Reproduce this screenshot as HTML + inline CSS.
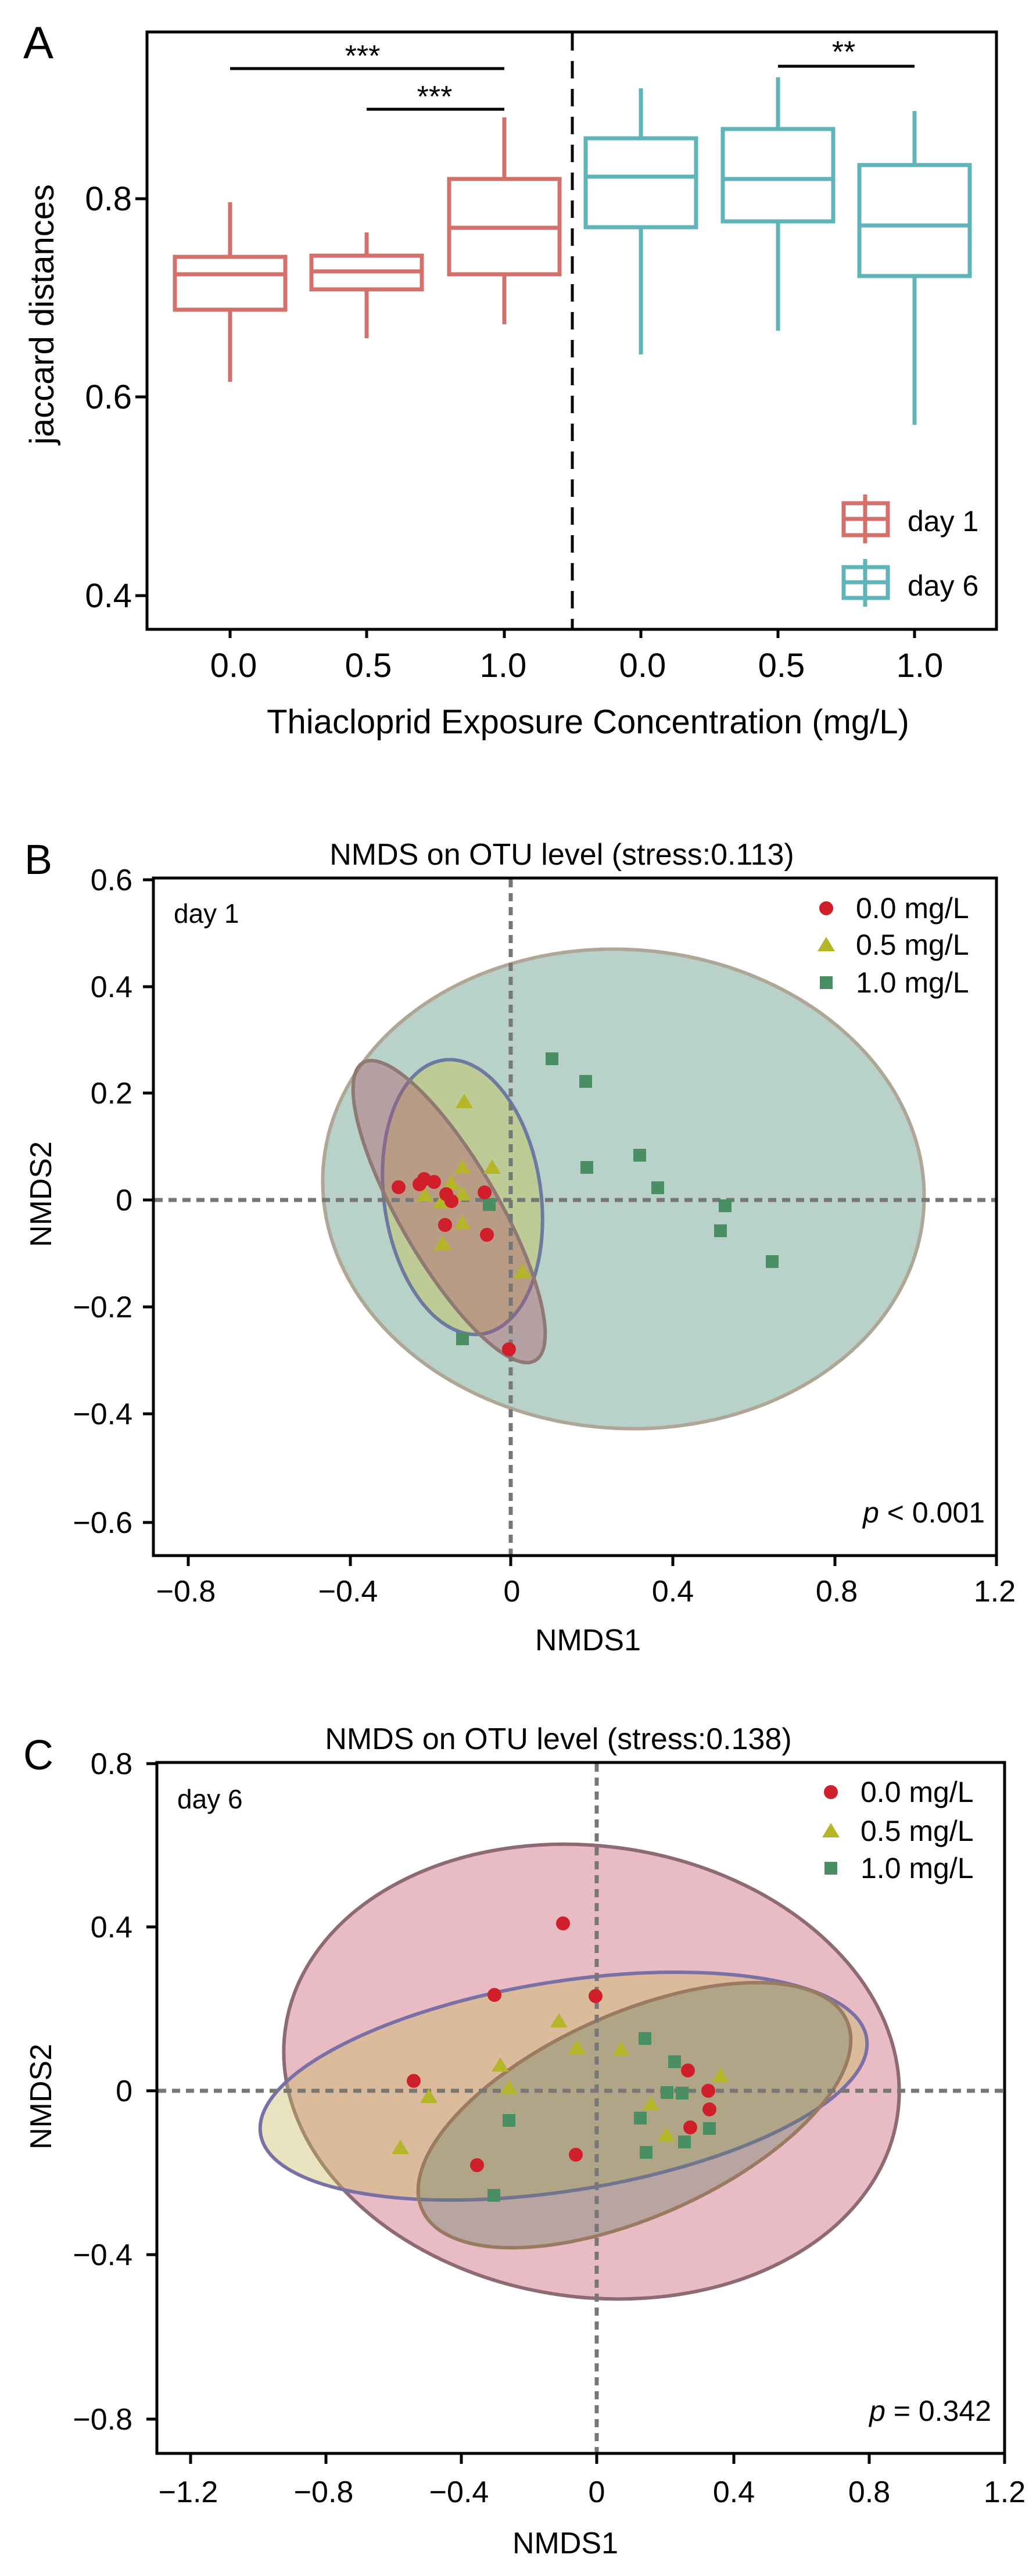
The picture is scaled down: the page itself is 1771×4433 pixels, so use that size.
<!DOCTYPE html>
<html><head><meta charset="utf-8"><style>
html,body{margin:0;padding:0;background:#fff}
svg{display:block}
text{font-family:"Liberation Sans",sans-serif;fill:#000}
.n{font-family:"Liberation Sans Narrow","Liberation Sans",sans-serif}
</style></head><body>
<svg width="1771" height="4433" viewBox="0 0 1771 4433" xmlns="http://www.w3.org/2000/svg">
<!-- Panel A -->
<text x="40" y="100" font-size="78" class="n">A</text>
<g fill="none" stroke-width="7">
<g stroke="#d4706a">
<line x1="396" y1="348" x2="396" y2="442"/><line x1="396" y1="533" x2="396" y2="657"/>
<rect x="301" y="442" width="190" height="91"/><line x1="301" y1="472" x2="491" y2="472"/>
<line x1="631" y1="400" x2="631" y2="440"/><line x1="631" y1="498" x2="631" y2="582"/>
<rect x="536" y="440" width="190" height="58"/><line x1="536" y1="467" x2="726" y2="467"/>
<line x1="868" y1="202" x2="868" y2="308"/><line x1="868" y1="472" x2="868" y2="558"/>
<rect x="773" y="308" width="190" height="164"/><line x1="773" y1="392" x2="963" y2="392"/>
<line x1="1489" y1="851" x2="1489" y2="935"/><rect x="1452" y="866" width="76" height="55"/><line x1="1452" y1="893" x2="1528" y2="893"/>
</g>
<g stroke="#5fb4b8">
<line x1="1103" y1="152" x2="1103" y2="238"/><line x1="1103" y1="391" x2="1103" y2="610"/>
<rect x="1008" y="238" width="190" height="153"/><line x1="1008" y1="304" x2="1198" y2="304"/>
<line x1="1339" y1="133" x2="1339" y2="222"/><line x1="1339" y1="381" x2="1339" y2="569"/>
<rect x="1244" y="222" width="190" height="159"/><line x1="1244" y1="308" x2="1434" y2="308"/>
<line x1="1574" y1="191" x2="1574" y2="284"/><line x1="1574" y1="475" x2="1574" y2="731"/>
<rect x="1479" y="284" width="190" height="191"/><line x1="1479" y1="388" x2="1669" y2="388"/>
<line x1="1489" y1="962" x2="1489" y2="1044"/><rect x="1452" y="976" width="76" height="53"/><line x1="1452" y1="1002" x2="1528" y2="1002"/>
</g>
<g stroke="#000">
<line x1="985" y1="57" x2="985" y2="1081" stroke-dasharray="30,18" stroke-width="5"/>
<line x1="396" y1="118" x2="868" y2="118" stroke-width="5"/>
<line x1="631" y1="188" x2="868" y2="188" stroke-width="5"/>
<line x1="1339" y1="114" x2="1574" y2="114" stroke-width="5"/>
<rect x="253" y="55" width="1462" height="1028" stroke-width="5"/>
<path d="M233 342H253M233 683H253M233 1025H253M396 1083V1098M631 1083V1098M868 1083V1098M1103 1083V1098M1339 1083V1098M1574 1083V1098" stroke-width="5"/>
</g>
</g>
<g font-size="52" text-anchor="middle">
<text x="624" y="114">***</text><text x="748" y="184">***</text><text x="1452" y="107">**</text>
</g>
<g class="n" font-size="58" text-anchor="end">
<text x="227" y="362" class="n">0.8</text><text x="227" y="703" class="n">0.6</text><text x="227" y="1045" class="n">0.4</text>
</g>
<g class="n" font-size="58" text-anchor="middle">
<text x="402" y="1165" class="n">0.0</text><text x="634" y="1165" class="n">0.5</text><text x="866" y="1165" class="n">1.0</text>
<text x="1106" y="1165" class="n">0.0</text><text x="1345" y="1165" class="n">0.5</text><text x="1583" y="1165" class="n">1.0</text>
<text x="1012" y="1262" class="n">Thiacloprid Exposure Concentration (mg/L)</text>
<text transform="translate(92,541) rotate(-90)" class="n">jaccard distances</text>
</g>
<g class="n" font-size="50"><text x="1562" y="914" class="n">day 1</text><text x="1562" y="1025" class="n">day 6</text></g>

<!-- Panel B -->
<text x="42" y="1504" font-size="72">B</text>
<text x="967" y="1488" font-size="52" text-anchor="middle">NMDS on OTU level (stress:0.113)</text>
<ellipse cx="1073" cy="2046" rx="518" ry="412" transform="rotate(4 1073 2046)" fill="#4f8f78" fill-opacity="0.4" stroke="#b0a696" stroke-width="6"/>
<ellipse cx="796" cy="2060" rx="135" ry="238" transform="rotate(-8 796 2060)" fill="#c8c45a" fill-opacity="0.45" stroke="#6a7aa0" stroke-width="6"/>
<ellipse cx="773" cy="2085" rx="85" ry="296" transform="rotate(-30 773 2085)" fill="#b0546e" fill-opacity="0.4" stroke="#8e7a72" stroke-width="6"/>
<g stroke="#777" stroke-width="7" stroke-dasharray="14,10"><line x1="879" y1="1513" x2="879" y2="2675"/><line x1="266" y1="2065" x2="1713" y2="2065"/></g>
<g fill="#4a8f63">
<rect x="939" y="1811" width="22" height="22"/><rect x="997" y="1850" width="22" height="22"/><rect x="1090" y="1977" width="22" height="22"/><rect x="999" y="1998" width="22" height="22"/><rect x="1121" y="2033" width="22" height="22"/><rect x="831" y="2062" width="22" height="22"/><rect x="1237" y="2064" width="22" height="22"/><rect x="1229" y="2107" width="22" height="22"/><rect x="1318" y="2160" width="22" height="22"/><rect x="785" y="2293" width="22" height="22"/>
<rect x="1411" y="1680" width="22" height="22"/>
</g>
<g fill="#b5b52a">
<path d="M799 1882l15 25h-30zM796 1995l15 25h-30zM847 1995l15 25h-30zM777 2022l15 25h-30zM731 2043l15 25h-30zM760 2054l15 25h-30zM796 2041l15 25h-30zM796 2091l15 25h-30zM762 2126l15 25h-30zM899 2174l15 25h-30zM1422 1612l15 25h-30z"/>
</g>
<g fill="#d01f2a">
<circle cx="686" cy="2043" r="12"/><circle cx="722" cy="2038" r="12"/><circle cx="730" cy="2029" r="12"/><circle cx="747" cy="2034" r="12"/><circle cx="768" cy="2055" r="12"/><circle cx="777" cy="2067" r="12"/><circle cx="834" cy="2052" r="12"/><circle cx="766" cy="2108" r="12"/><circle cx="838" cy="2125" r="12"/><circle cx="876" cy="2322" r="12"/><circle cx="1422" cy="1563" r="12"/>
</g>
<rect x="264" y="1511" width="1451" height="1166" fill="none" stroke="#000" stroke-width="5"/>
<path d="M246 1514H264M246 1698H264M246 1881H264M246 2065H264M246 2249H264M246 2433H264M246 2620H264M324 2677V2695M603 2677V2695M879 2677V2695M1158 2677V2695M1437 2677V2695M1715 2677V2695" stroke="#000" stroke-width="5"/>
<g font-size="52" text-anchor="end">
<text x="228" y="1532">0.6</text><text x="228" y="1716">0.4</text><text x="228" y="1899">0.2</text><text x="228" y="2083">0</text><text x="228" y="2267">−0.2</text><text x="228" y="2451">−0.4</text><text x="228" y="2638">−0.6</text>
</g>
<g font-size="52" text-anchor="middle">
<text x="320" y="2756">−0.8</text><text x="599" y="2756">−0.4</text><text x="881" y="2756">0</text><text x="1158" y="2756">0.4</text><text x="1440" y="2756">0.8</text><text x="1712" y="2756">1.2</text>
<text x="1012" y="2840">NMDS1</text>
<text transform="translate(88,2055) rotate(-90)">NMDS2</text>
</g>
<text x="299" y="1588" font-size="46">day 1</text>
<g font-size="50"><text x="1473" y="1580">0.0 mg/L</text><text x="1473" y="1643">0.5 mg/L</text><text x="1473" y="1708">1.0 mg/L</text></g>
<text x="1695" y="2620" font-size="50" text-anchor="end"><tspan font-style="italic">p</tspan> &lt; 0.001</text>

<!-- Panel C -->
<text x="40" y="3045" font-size="72">C</text>
<text x="961" y="3010" font-size="52" text-anchor="middle">NMDS on OTU level  (stress:0.138)</text>
<ellipse cx="1018" cy="3565" rx="532" ry="388" transform="rotate(8 1018 3565)" fill="#c9546e" fill-opacity="0.4" stroke="#8e6b74" stroke-width="6"/>
<ellipse cx="970" cy="3590" rx="528" ry="180" transform="rotate(-9 970 3590)" fill="#c9b860" fill-opacity="0.4" stroke="#7a70a5" stroke-width="6"/>
<ellipse cx="1092" cy="3640" rx="400" ry="175" transform="rotate(-24 1092 3640)" fill="#5f7f60" fill-opacity="0.35" stroke="#9a7a60" stroke-width="6"/>
<g stroke="#777" stroke-width="7" stroke-dasharray="14,10"><line x1="1027" y1="3035" x2="1027" y2="4220"/><line x1="272" y1="3598" x2="1727" y2="3598"/></g>
<g fill="#4a8f63">
<rect x="1099" y="3497" width="22" height="22"/><rect x="1150" y="3537" width="22" height="22"/><rect x="1137" y="3590" width="22" height="22"/><rect x="1163" y="3591" width="22" height="22"/><rect x="1091" y="3634" width="22" height="22"/><rect x="1210" y="3652" width="22" height="22"/><rect x="1167" y="3675" width="22" height="22"/><rect x="1101" y="3693" width="22" height="22"/><rect x="865" y="3638" width="22" height="22"/><rect x="839" y="3767" width="22" height="22"/>
<rect x="1419" y="3204" width="22" height="22"/>
</g>
<g fill="#b5b52a">
<path d="M962 3464l15 25h-30zM993 3510l15 25h-30zM1069 3513l15 25h-30zM861 3540l15 25h-30zM876 3579l15 25h-30zM738 3594l15 25h-30zM689 3682l15 25h-30zM1120 3607l15 25h-30zM1147 3660l15 25h-30zM1240 3558l15 25h-30zM1430 3137l15 25h-30z"/>
</g>
<g fill="#d01f2a">
<circle cx="969" cy="3310" r="12"/><circle cx="851" cy="3433" r="12"/><circle cx="1025" cy="3435" r="12"/><circle cx="712" cy="3581" r="12"/><circle cx="1184" cy="3563" r="12"/><circle cx="1219" cy="3598" r="12"/><circle cx="1221" cy="3630" r="12"/><circle cx="1188" cy="3661" r="12"/><circle cx="991" cy="3708" r="12"/><circle cx="821" cy="3726" r="12"/><circle cx="1430" cy="3084" r="12"/>
</g>
<rect x="270" y="3033" width="1459" height="1189" fill="none" stroke="#000" stroke-width="5"/>
<path d="M252 3035H270M252 3316H270M252 3598H270M252 3880H270M252 4163H270M328 4222V4240M561 4222V4240M794 4222V4240M1027 4222V4240M1263 4222V4240M1496 4222V4240M1729 4222V4240" stroke="#000" stroke-width="5"/>
<g font-size="52" text-anchor="end">
<text x="228" y="3053">0.8</text><text x="228" y="3334">0.4</text><text x="228" y="3616">0</text><text x="228" y="3898">−0.4</text><text x="228" y="4181">−0.8</text>
</g>
<g font-size="52" text-anchor="middle">
<text x="324" y="4306">−1.2</text><text x="557" y="4306">−0.8</text><text x="790" y="4306">−0.4</text><text x="1027" y="4306">0</text><text x="1263" y="4306">0.4</text><text x="1496" y="4306">0.8</text><text x="1729" y="4306">1.2</text>
<text x="973" y="4394">NMDS1</text>
<text transform="translate(88,3608) rotate(-90)">NMDS2</text>
</g>
<text x="305" y="3112" font-size="46">day 6</text>
<g font-size="50"><text x="1481" y="3101">0.0 mg/L</text><text x="1481" y="3168">0.5 mg/L</text><text x="1481" y="3232">1.0 mg/L</text></g>
<text x="1706" y="4166" font-size="50" text-anchor="end"><tspan font-style="italic">p</tspan> = 0.342</text>
</svg>
</body></html>
